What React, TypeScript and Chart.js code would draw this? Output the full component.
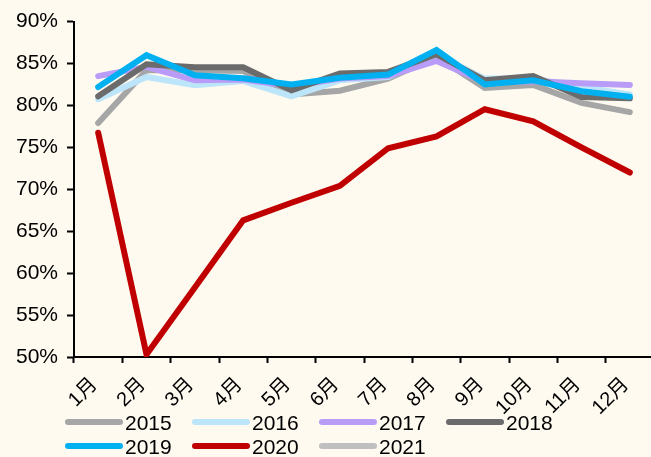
import React, { useEffect, useRef } from "react";
import { Chart, registerables } from "chart.js";

Chart.register(...registerables);

const months = ["1月", "2月", "3月", "4月", "5月", "6月", "7月", "8月", "9月", "10月", "11月", "12月"];
const yearLabels = ["2015", "2016", "2017", "2018", "2019", "2020", "2021"];

const s2015 = [77.9, 84.2, 84.2, 84.1, 81.3, 81.75, 83.2, 85.8, 82.1, 82.45, 80.3, 79.2];
const s2016 = [80.75, 83.4, 82.4, 82.9, 81.1, 83.0, 83.4, 86.0, 83.2, 83.2, 82.2, 81.3];
const s2017 = [83.5, 84.6, 83.0, 83.1, 82.3, 83.2, 83.5, 85.3, 82.8, 82.9, 82.65, 82.45];
const s2018 = [81.1, 84.9, 84.55, 84.55, 81.8, 83.8, 84.0, 86.1, 83.0, 83.5, 81.0, 80.85];
const s2019 = [82.2, 86.0, 83.6, 83.25, 82.5, 83.3, 83.7, 86.6, 82.5, 83.0, 81.7, 81.05];
const s2020 = [76.75, 50.3, 58.3, 66.3, 68.4, 70.4, 74.9, 76.3, 79.55, 78.1, 75.0, 72.0];
const s2021: (number | null)[] = [null, null, null, null, null, null, null, null, null, null, null, null];

const seriesList = [s2015, s2016, s2017, s2018, s2019, s2020, s2021];
const colors = ["#A6A6A6", "#BDE5F9", "#B99CF7", "#6B6B6B", "#00B0F0", "#C00000", "#BFBFBF"];

const yTicks = [50, 55, 60, 65, 70, 75, 80, 85, 90];

const BG = "#FEFAF0";
const FONT = "'Liberation Sans', Arial, 'Noto Sans CJK SC', sans-serif";

export default function App() {
  const ref = useRef<HTMLCanvasElement | null>(null);

  useEffect(() => {
    document.body.style.margin = "0";
    document.body.style.background = BG;
    document.body.style.overflow = "hidden";
    document.documentElement.style.overflow = "hidden";

    const bgPlugin = {
      id: "bg",
      beforeDraw(chart: any) {
        const ctx = chart.ctx;
        ctx.save();
        ctx.fillStyle = BG;
        ctx.fillRect(0, 0, chart.width, chart.height);
        ctx.restore();
      },
    };

    const legendPlugin = {
      id: "customLegend",
      afterDraw(chart: any) {
        const ctx = chart.ctx;
        ctx.save();
        chart.data.datasets.forEach((ds: any, i: number) => {
          const col = i % 4;
          const row = Math.floor(i / 4);
          const x0 = 65 + col * 127;
          const y = 422 + row * 24;
          ctx.strokeStyle = ds.borderColor;
          ctx.lineWidth = 6;
          ctx.lineCap = "round";
          ctx.beginPath();
          ctx.moveTo(x0 + 3, y);
          ctx.lineTo(x0 + 55, y);
          ctx.stroke();
          ctx.fillStyle = "#000";
          ctx.font = `21px ${FONT}`;
          ctx.textAlign = "left";
          ctx.textBaseline = "middle";
          ctx.fillText(ds.label, x0 + 60, y + 2);
        });
        ctx.restore();
      },
    };

    const chart = new Chart(ref.current as HTMLCanvasElement, {
      type: "line",
      data: {
        labels: months,
        datasets: seriesList.map((s, i) => ({
          label: yearLabels[i],
          data: s,
          borderColor: colors[i],
          backgroundColor: colors[i],
          borderWidth: 6,
          pointRadius: 0,
          tension: 0,
          borderCapStyle: "round" as const,
          borderJoinStyle: "miter" as const,
          order: seriesList.length - i,
        })),
      },
      options: {
        animation: false,
        responsive: false,
        devicePixelRatio: 1,
        layout: { padding: { top: 19, right: 6, left: 0, bottom: 0 } },
        plugins: {
          legend: { display: false },
          tooltip: { enabled: false },
        },
        scales: {
          x: {
            type: "category",
            offset: true,
            grid: {
              offset: true,
              drawOnChartArea: false,
              drawTicks: true,
              tickLength: 6,
              tickWidth: 2,
              tickColor: "#000",
            },
            border: { display: true, color: "#000", width: 2 },
            ticks: {
              color: "#000",
              font: { size: 20, family: FONT },
              minRotation: 45,
              maxRotation: 45,
              autoSkip: false,
              padding: 10,
              labelOffset: -4,
            },
            afterFit(scale: any) {
              scale.height = 100;
            },
          },
          y: {
            min: 50,
            max: 90,
            afterBuildTicks(scale: any) {
              scale.ticks = yTicks.map((v) => ({ value: v }));
            },
            grid: {
              drawOnChartArea: false,
              drawTicks: true,
              tickLength: 7,
              tickWidth: 2,
              tickColor: "#000",
            },
            border: { display: true, color: "#000", width: 2 },
            ticks: {
              color: "#000",
              font: { size: 21, family: FONT },
              padding: 9,
              callback: (v: any) => `${v}%`,
            },
            afterFit(scale: any) {
              scale.width = 74;
            },
          },
        },
      },
      plugins: [bgPlugin, legendPlugin],
    });
    return () => chart.destroy();
  }, []);

  return (
    <div style={{ position: "absolute", left: 0, top: 0, width: 660, height: 457, background: BG }}>
      <canvas ref={ref} width={660} height={457} style={{ display: "block" }} />
    </div>
  );
}
